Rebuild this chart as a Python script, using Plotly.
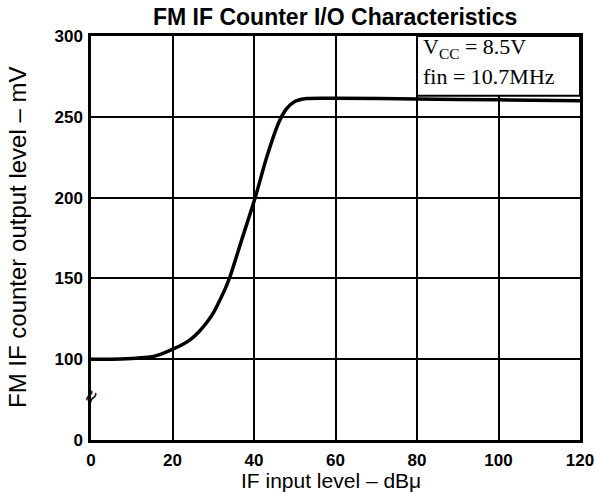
import plotly.graph_objects as go

# Data
x_level = [0, 5, 10, 14.5, 17, 19.4, 22, 24.3, 26.5, 28.5, 30.2, 31.7, 33, 34.1, 37, 40.3, 43, 46, 48, 50, 53, 60, 80, 100, 120]
y_mv = [100, 100, 100.5, 101.3, 103, 105.5, 108.5, 112, 117, 123, 129.5, 137, 144, 151, 174, 200, 224, 246, 255, 259.5, 261.3, 261.5, 261, 260.5, 260]
x_ticks = [0, 20, 40, 60, 80, 100, 120]
y_ticks = [0, 100, 150, 200, 250, 300]


# Broken y axis: 0-100 mV compressed into one 50 mV grid cell
def yt(v):
    return v if v >= 100 else 50 + v / 2.0


fig = go.Figure()
fig.add_trace(go.Scatter(
    x=x_level, y=[yt(v) for v in y_mv], mode="lines",
    line=dict(color="black", width=3.5, shape="spline", smoothing=0.8),
    hoverinfo="skip", showlegend=False))

L, R, T, B = 91, 580, 36, 440
W, H = 595, 492


def px_x(p):
    return (p - L) / (R - L)


def px_y(p):
    return (B - p) / (B - T)


fig.update_layout(
    width=W, height=H, autosize=False,
    margin=dict(l=L, r=W - R, t=T, b=H - B, autoexpand=False),
    paper_bgcolor="white", plot_bgcolor="white",
    showlegend=False,
    font=dict(family="Liberation Sans, Arial, sans-serif", color="black"),
)
fig.update_xaxes(
    range=[0, 120], tickvals=x_ticks, ticktext=[str(v) for v in x_ticks],
    showgrid=True, gridcolor="black", gridwidth=1.5,
    showline=True, linecolor="black", linewidth=2.5, mirror=True,
    ticks="", zeroline=False, ticklabelstandoff=3, automargin=False,
    tickfont=dict(size=17, family="Liberation Sans, Arial", weight="bold"),
)
fig.update_yaxes(
    range=[50, 300], tickvals=[yt(v) for v in y_ticks], ticktext=[str(v) for v in y_ticks],
    showgrid=True, gridcolor="black", gridwidth=1.5,
    showline=True, linecolor="black", linewidth=2.5, mirror=True,
    ticks="", zeroline=False, ticklabelstandoff=2, automargin=False,
    tickfont=dict(size=17, family="Liberation Sans, Arial", weight="bold"),
)

# Condition box (upper right)
fig.add_shape(type="rect", xref="x", yref="y", x0=80, x1=120, y0=263, y1=300,
              fillcolor="white", line=dict(color="black", width=2), layer="above")
serif = dict(family="Liberation Serif, Times New Roman, serif", size=22, color="black")
fig.add_annotation(xref="paper", yref="paper", x=px_x(421), y=px_y(48), xanchor="left", yanchor="middle",
                   text="V<sub>CC</sub> = 8.5V", showarrow=False, font=serif)
fig.add_annotation(xref="paper", yref="paper", x=px_x(421), y=px_y(76), xanchor="left", yanchor="middle",
                   text="fin = 10.7MHz", showarrow=False, font=serif)

# Axis break mark
fig.add_annotation(xref="x", yref="y", x=0, y=yt(54), text="≈", showarrow=False,
                   textangle=-60, font=dict(size=22, color="black"))

# Title
fig.add_annotation(xref="paper", yref="paper", x=px_x(335), y=px_y(17),
                   text="<b>FM IF Counter I/O Characteristics</b>", showarrow=False,
                   xanchor="center", yanchor="middle",
                   font=dict(size=23, family="Liberation Sans, Arial"))

# Axis titles
fig.add_annotation(xref="paper", yref="paper", x=px_x(331), y=px_y(480),
                   text="IF input level – dBμ", showarrow=False, xanchor="center", yanchor="middle",
                   font=dict(size=21, family="Liberation Sans, Arial"))
fig.add_annotation(xref="paper", yref="paper", x=px_x(17), y=px_y(238),
                   text="FM IF counter output level – mV", showarrow=False, textangle=-90,
                   xanchor="center", yanchor="middle",
                   font=dict(size=24, family="Liberation Sans, Arial"))

fig.write_html("out.html", config={"displayModeBar": False},
               post_script="document.body.style.margin='0';document.body.style.overflow='hidden';")
